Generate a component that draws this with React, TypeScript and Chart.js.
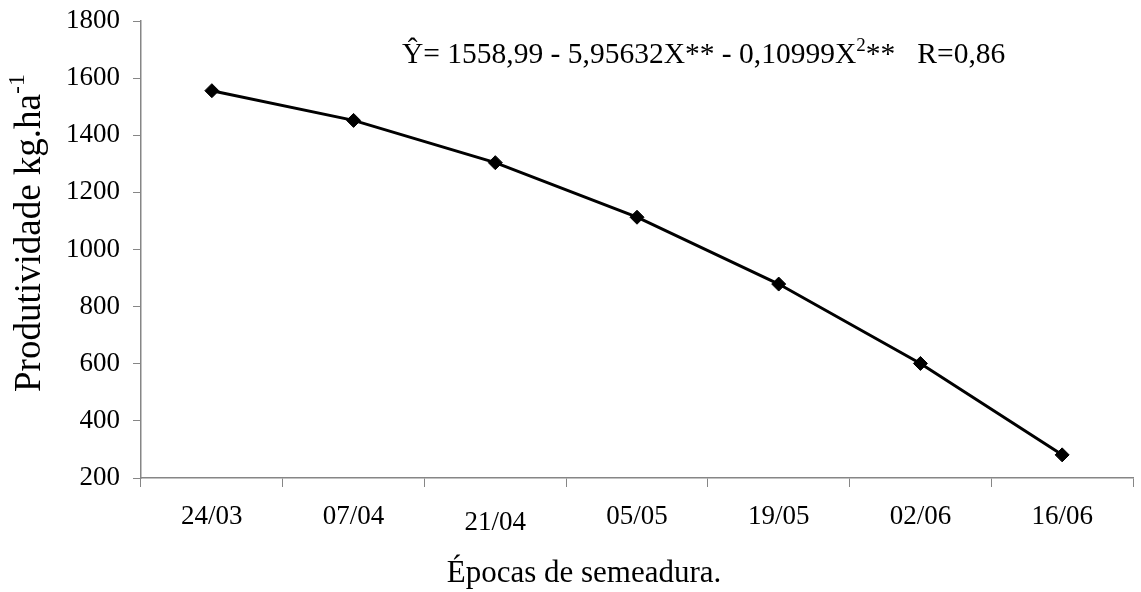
import React, { useEffect, useRef } from "react";
import { Chart, registerables } from "chart.js";
Chart.register(...registerables);

const categories = ["24/03", "07/04", "21/04", "05/05", "19/05", "02/06", "16/06"];
const productivity = [1556, 1452, 1304, 1113, 879, 601, 281];
const yMin = 200;
const yMax = 1800;
const yStep = 200;
const equationMain = "Ŷ= 1558,99 - 5,95632X** - 0,10999X";
const equationSup = "2";
const equationTail = "**   R=0,86";
const yTitle = "Produtividade kg.ha";
const yTitleSup = "-1";
const xTitle = "Épocas de semeadura.";

const FONT = "'Liberation Serif', 'Times New Roman', serif";
const AXIS = "#868686";

const textPlugin = {
  id: "texts",
  afterDraw(chart: any) {
    const ctx = chart.ctx as CanvasRenderingContext2D;
    ctx.save();
    ctx.fillStyle = "#000";
    ctx.textBaseline = "alphabetic";
    ctx.textAlign = "left";
    // equation
    ctx.font = `29.5px ${FONT}`;
    let x = 402;
    const by = 63;
    ctx.fillText(equationMain, x, by);
    x += ctx.measureText(equationMain).width;
    ctx.font = `19px ${FONT}`;
    ctx.fillText(equationSup, x, by - 12);
    x += ctx.measureText(equationSup).width;
    ctx.font = `29.5px ${FONT}`;
    ctx.fillText(equationTail, x, by);

    // y title
    ctx.save();
    ctx.translate(40, 233);
    ctx.rotate(-Math.PI / 2);
    ctx.font = `37px ${FONT}`;
    const w1 = ctx.measureText(yTitle).width;
    ctx.font = `24px ${FONT}`;
    const w2 = ctx.measureText(yTitleSup).width;
    const start = -(w1 + w2) / 2;
    ctx.font = `37px ${FONT}`;
    ctx.fillText(yTitle, start, 0);
    ctx.font = `24px ${FONT}`;
    ctx.fillText(yTitleSup, start + w1, -16);
    ctx.restore();

    // x title
    ctx.font = `31px ${FONT}`;
    ctx.textAlign = "center";
    ctx.fillText(xTitle, 584, 582);
    ctx.restore();
  },
};

export default function App() {
  const ref = useRef<HTMLCanvasElement>(null);
  useEffect(() => {
    document.body.style.margin = "0";
    const chart = new Chart(ref.current!, {
      type: "line",
      data: {
        labels: categories,
        datasets: [
          {
            data: productivity,
            borderColor: "#000",
            backgroundColor: "#000",
            borderWidth: 3,
            pointStyle: "rectRot",
            pointRadius: 7,
            pointBorderWidth: 1,
            tension: 0,
          },
        ],
      },
      options: {
        animation: false,
        responsive: false,
        layout: { padding: { top: 21, left: 0, right: 0, bottom: 0 } },
        plugins: { legend: { display: false }, tooltip: { enabled: false } },
        scales: {
          x: {
            offset: true,
            grid: { offset: true, drawOnChartArea: false, tickLength: 9, color: AXIS, lineWidth: 1 },
            border: { color: AXIS, width: 1.5 },
            ticks: {
              color: "#000",
              padding: 14,
              maxRotation: 0,
              font: (c: any) => ({ family: FONT, size: 27, lineHeight: c.index === 2 ? 1.65 : 1.2 }),
            },
            afterFit: (s: any) => {
              s.height = 592 - 478;
              s.paddingLeft = 0;
              s.paddingRight = 0;
            },
          },
          y: {
            min: yMin,
            max: yMax,
            ticks: {
              stepSize: yStep,
              color: "#000",
              padding: 13,
              font: { family: FONT, size: 27 },
              callback: (v: any) => String(v),
            },
            grid: { drawOnChartArea: false, tickLength: 8, color: AXIS, lineWidth: 1 },
            border: { color: AXIS, width: 1.5 },
            afterFit: (s: any) => {
              s.width = 141;
              s.paddingTop = 0;
              s.paddingBottom = 0;
            },
          },
        },
      },
      plugins: [textPlugin],
    });
    return () => chart.destroy();
  }, []);
  return <canvas ref={ref} width={1141} height={592} style={{ display: "block" }} />;
}
